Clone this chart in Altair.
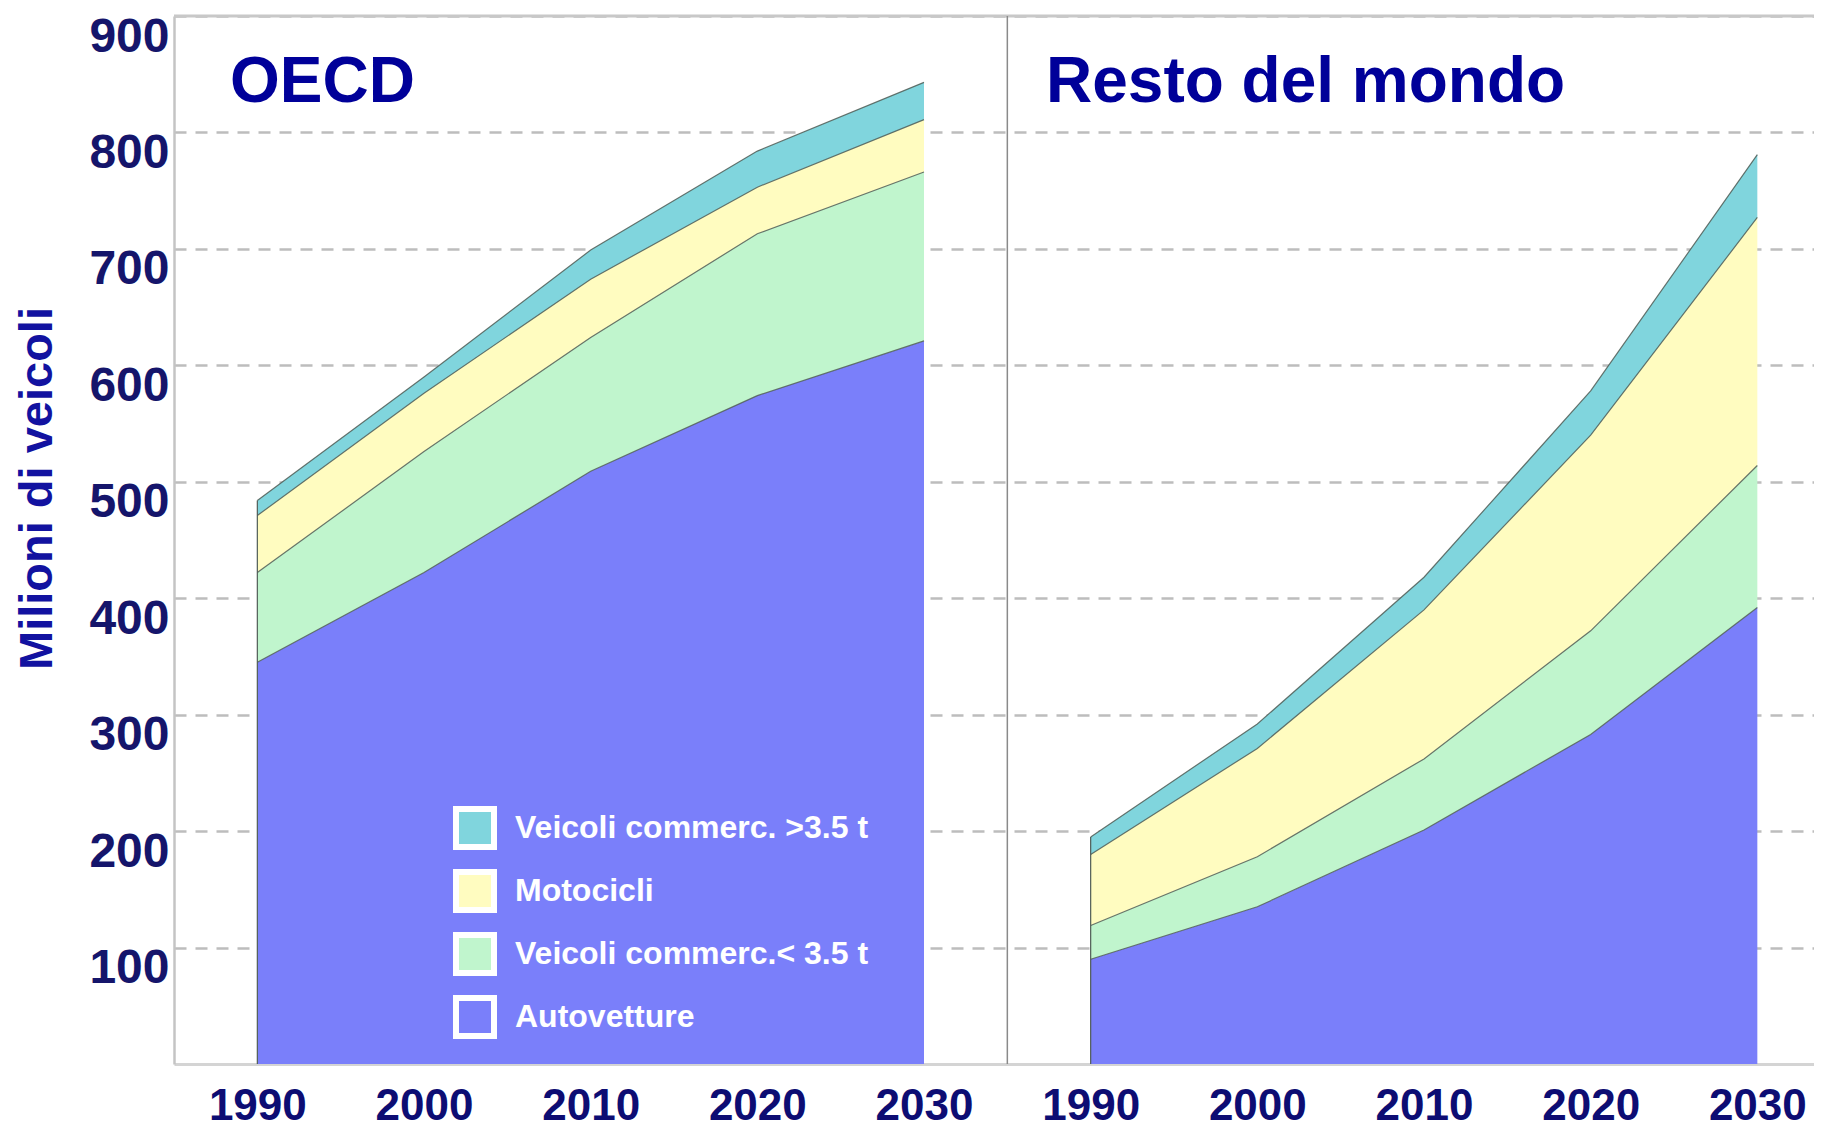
import altair as alt
import pandas as pd

# ---------------- data (milioni di veicoli) ----------------
years = [1990, 2000, 2010, 2020, 2030]
series = ["Autovetture", "Veicoli commerc.< 3.5 t", "Motocicli", "Veicoli commerc. >3.5 t"]
legend_order = ["Veicoli commerc. >3.5 t", "Motocicli", "Veicoli commerc.< 3.5 t", "Autovetture"]
legend_colors = ["#80d5dd", "#fffcc0", "#c0f5cd", "#7a7ffa"]

oecd_auto = [345, 422, 509, 574, 621]
oecd_lcv = [77, 104, 115, 139, 145]
oecd_moto = [49, 50, 50, 40, 45]
oecd_hcv = [13, 14, 25, 31, 32]

row_auto = [90, 135, 201, 283, 392]
row_lcv = [29, 43, 61, 89, 122]
row_moto = [61, 93, 128, 168, 213]
row_hcv = [15, 21, 28, 38, 54]

panels = ["OECD", "Resto del mondo"]
panel_shift = [0, 50]          # right panel drawn on the same axis, shifted by 50 years
y_ticks = [100, 200, 300, 400, 500, 600, 700, 800, 900]
x_ticks = [1990, 2000, 2010, 2020, 2030, 2040, 2050, 2060, 2070, 2080]

records = []
for panel, shift, vals in [
    (panels[0], panel_shift[0], [oecd_auto, oecd_lcv, oecd_moto, oecd_hcv]),
    (panels[1], panel_shift[1], [row_auto, row_lcv, row_moto, row_hcv]),
]:
    for i, yr in enumerate(years):
        bottom = 0
        for s, v in zip(series, vals):
            top = bottom + v[i]
            records.append({"panel": panel, "year": yr, "pos": yr + shift,
                            "series": s, "value": v[i], "bottom": bottom, "top": top,
                            "key": panel + "|" + s})
            bottom = top
df = pd.DataFrame(records)

W, H = 1640, 1048
FONT = "Liberation Sans"

x_scale = alt.Scale(domain=[1985, 2083.4], nice=False, zero=False)
y_scale = alt.Scale(domain=[0, 900], nice=False, zero=True)

color = alt.Color(
    "series:N",
    scale=alt.Scale(domain=legend_order, range=legend_colors),
    legend=alt.Legend(
        title=None, orient="none", legendX=279, legendY=790,
        symbolType="square", symbolSize=1444, symbolStrokeColor="white",
        symbolStrokeWidth=6, symbolOpacity=1,
        labelFont=FONT, labelFontSize=32, labelFontWeight="bold",
        labelColor="white", labelOffset=18, labelLimit=600, rowPadding=1, padding=0,
    ),
)

base = alt.Chart(df)

areas = base.mark_area(opacity=1).encode(
    x=alt.X("pos:Q", scale=x_scale,
            axis=alt.Axis(values=x_ticks, title=None, grid=False, ticks=False,
                          labelExpr="datum.value > 2035 ? '' + (datum.value - 50) : '' + datum.value",
                          labelFont=FONT, labelFontSize=44, labelFontWeight="bold",
                          labelColor="#0d0d73", labelPadding=20, labelBaseline="top",
                          domainColor="#d4d4d4", domainWidth=3, labelFlush=False,
                          labelOverlap=False)),
    y=alt.Y("top:Q", scale=y_scale,
            axis=alt.Axis(values=y_ticks, title="Milioni di veicoli", grid=True,
                          gridDash=[12, 9], gridColor="#bdbdbd", gridWidth=2.5,
                          ticks=False, labelFont=FONT, labelFontSize=48, labelFontWeight="bold",
                          labelColor="#15156b", labelPadding=5, labelBaseline="middle",
                          labelOffset=21, domainColor="#c4c4c4", domainWidth=2.5,
                          titleFont=FONT, titleFontSize=47, titleFontWeight="bold",
                          titleColor="#1212a0", titleAngle=270, titleAlign="center",
                          titleBaseline="middle", titleX=-137, titleY=472,
                          labelFlush=False)),
    y2="bottom:Q",
    color=color,
    detail="panel:N",
)

lines = base.mark_line(color="#4f5c55", strokeWidth=1.2, opacity=0.85).encode(
    x=alt.X("pos:Q", scale=x_scale),
    y=alt.Y("top:Q", scale=y_scale),
    detail="key:N",
)

edges = base.transform_filter(
    "datum.year == 1990 && datum.series == 'Veicoli commerc. >3.5 t'"
).mark_rule(color="#4f5c55", strokeWidth=1.2).encode(
    x=alt.X("pos:Q", scale=x_scale),
    y=alt.Y("top:Q", scale=y_scale),
    y2=alt.datum(0),
)

frame_top = alt.Chart(pd.DataFrame({"v": [900]})).mark_rule(
    color="#c8c8c8", strokeWidth=3).encode(y=alt.Y("v:Q", scale=y_scale))

divider = alt.Chart(pd.DataFrame({"p": [2035]})).mark_rule(
    color="#8a8a8a", strokeWidth=1.5).encode(x=alt.X("p:Q", scale=x_scale))

title_style = dict(font=FONT, fontSize=64, fontWeight="bold", color="#000099",
                   align="left", baseline="alphabetic")
title_left = alt.Chart(pd.DataFrame({"t": [panels[0]]})).mark_text(**title_style).encode(
    x=alt.value(56), y=alt.value(86), text="t:N")
title_right = alt.Chart(pd.DataFrame({"t": [panels[1]]})).mark_text(**title_style).encode(
    x=alt.value(872), y=alt.value(86), text="t:N")

chart = alt.layer(areas, lines, edges, frame_top, divider, title_left, title_right).properties(
    width=W, height=H,
    autosize=alt.AutoSizeParams(type="none"),
    padding={"left": 166, "top": 8, "right": 0, "bottom": 67},
    background="white",
).configure_view(stroke=None)

chart.save("out.html", embed_options={"renderer": "svg", "actions": False})
